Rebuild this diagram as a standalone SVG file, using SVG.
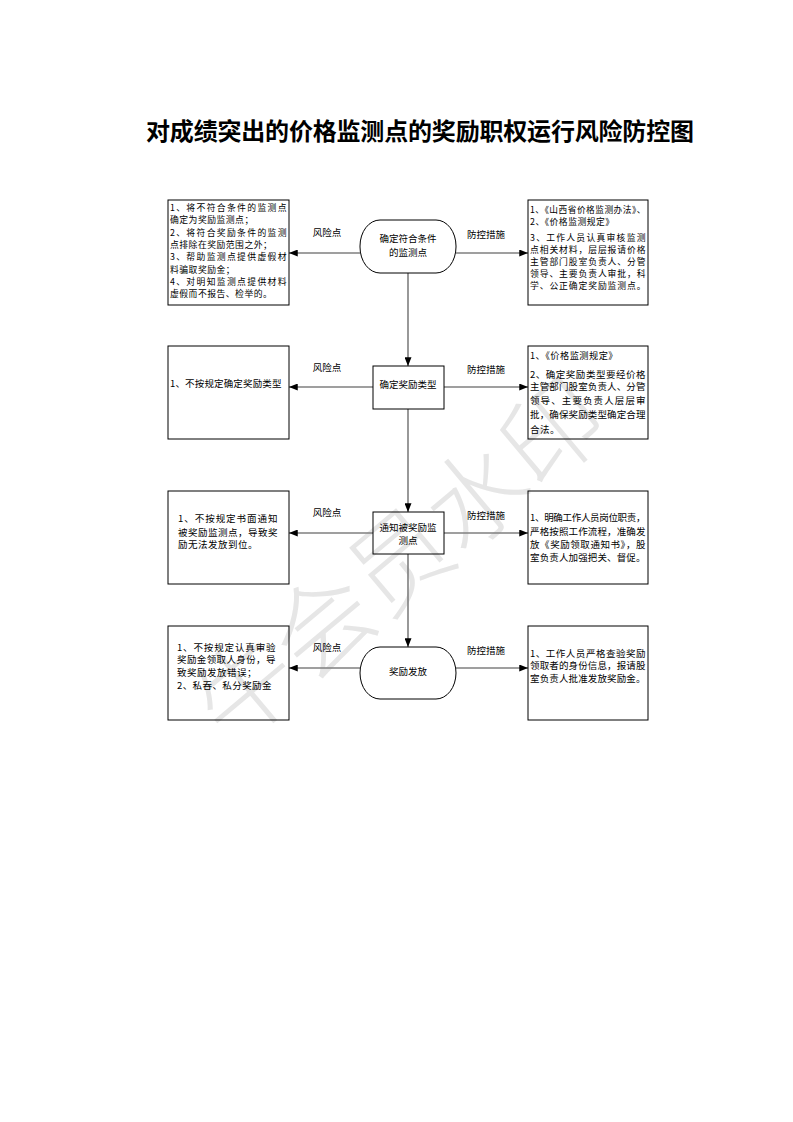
<svg xmlns="http://www.w3.org/2000/svg" width="793" height="1122" viewBox="0 0 793 1122">
<style>
text{font-family:"Noto Sans CJK SC","Noto Sans CJK TC",sans-serif;fill:#000}
.title{font-size:24px;font-weight:bold;letter-spacing:2px}
.t{font-size:9.5px;letter-spacing:0.5px}
.s{font-size:8.8px;letter-spacing:0.5px}
.c{font-size:9.5px;text-anchor:middle}
.lbl{font-size:9.5px;text-anchor:middle}
.box{fill:none;stroke:#000;stroke-width:1}
.conn{stroke:#7f7f7f;stroke-width:1.6;fill:none;marker-end:url(#ah)}
.wm{font-size:100px;fill:#e6e6e6;text-anchor:middle;font-weight:300}
</style>
<defs>
<marker id="ah" viewBox="0 0 10 8" markerWidth="9" markerHeight="7" refX="10" refY="4" orient="auto" markerUnits="userSpaceOnUse">
<path d="M0,0 L10,4 L0,8 z" fill="#000"/>
</marker>
</defs>
<rect width="793" height="1122" fill="#fff"/>
<text x="421" y="140" class="title" text-anchor="middle" textLength="550">对成绩突出的价格监测点的奖励职权运行风险防控图</text>
<text class="wm" x="395" y="555" dominant-baseline="central" transform="rotate(-40 395 555)">牛会员水印</text>

<g id="connectors">
<line class="conn" x1="360" y1="253" x2="289" y2="253"/>
<line class="conn" x1="456" y1="253" x2="528" y2="253"/>
<line class="conn" x1="373" y1="387" x2="289" y2="387"/>
<line class="conn" x1="444" y1="387" x2="528" y2="387"/>
<line class="conn" x1="373" y1="533" x2="289" y2="533"/>
<line class="conn" x1="444" y1="533" x2="528" y2="533"/>
<line class="conn" x1="360" y1="668" x2="289" y2="668"/>
<line class="conn" x1="456" y1="668" x2="528" y2="668"/>
<line class="conn" x1="408" y1="273" x2="408" y2="366"/>
<line class="conn" x1="408" y1="409" x2="408" y2="512"/>
<line class="conn" x1="408" y1="554" x2="408" y2="647"/>
<text class="lbl" x="327" y="236">风险点</text>
<text class="lbl" x="486" y="238">防控措施</text>
<text class="lbl" x="327" y="371">风险点</text>
<text class="lbl" x="486" y="373">防控措施</text>
<text class="lbl" x="327" y="516">风险点</text>
<text class="lbl" x="486" y="519">防控措施</text>
<text class="lbl" x="327" y="651">风险点</text>
<text class="lbl" x="486" y="654">防控措施</text>
</g>

<g id="node1">
<rect class="box" x="360" y="220" width="96" height="53" rx="20" ry="26"/>
<text class="c" x="408" y="242">确定符合条件</text>
<text class="c" x="408" y="256">的监测点</text>
</g>
<g id="node2">
<rect class="box" x="373" y="366" width="71" height="43"/>
<text class="c" x="408" y="388">确定奖励类型</text>
</g>
<g id="node3">
<rect class="box" x="373" y="512" width="71" height="42"/>
<text class="c" x="408" y="531">通知被奖励监</text>
<text class="c" x="408" y="544">测点</text>
</g>
<g id="node4">
<rect class="box" x="360" y="647" width="96" height="52" rx="20" ry="26"/>
<text class="c" x="408" y="675">奖励发放</text>
</g>

<g id="risk1">
<rect class="box" x="168" y="200" width="121" height="105"/>
<text class="s" x="170" y="211" textLength="117">1、将不符合条件的监测点</text>
<text class="s" x="170" y="223.3">确定为奖励监测点；</text>
<text class="s" x="170" y="235.6" textLength="117">2、将符合奖励条件的监测</text>
<text class="s" x="170" y="247.9">点排除在奖励范围之外；</text>
<text class="s" x="170" y="260.2" textLength="117">3、帮助监测点提供虚假材</text>
<text class="s" x="170" y="272.5">料骗取奖励金；</text>
<text class="s" x="170" y="284.8" textLength="117">4、对明知监测点提供材料</text>
<text class="s" x="170" y="297">虚假而不报告、检举的。</text>
</g>
<g id="ctrl1">
<rect class="box" x="528" y="200" width="120" height="105"/>
<text class="s" x="530" y="213" textLength="116" lengthAdjust="spacingAndGlyphs">1、《山西省价格监测办法》、</text>
<text class="s" x="530" y="225">2、《价格监测规定》</text>
<text class="s" x="530" y="241" textLength="116">3、工作人员认真审核监测</text>
<text class="s" x="530" y="253" textLength="116">点相关材料，层层报请价格</text>
<text class="s" x="530" y="265" textLength="116">主管部门股室负责人、分管</text>
<text class="s" x="530" y="277" textLength="116">领导、主要负责人审批，科</text>
<text class="s" x="530" y="289" textLength="116">学、公正确定奖励监测点。</text>
</g>

<g id="risk2">
<rect class="box" x="168" y="346" width="121" height="93"/>
<text class="t" x="170" y="387" textLength="112">1、不按规定确定奖励类型</text>
</g>
<g id="ctrl2">
<rect class="box" x="528" y="346" width="120" height="93"/>
<text class="t" x="530" y="359" textLength="88" lengthAdjust="spacingAndGlyphs">1、《价格监测规定》</text>
<text class="t" x="530" y="378" textLength="116">2、确定奖励类型要经价格</text>
<text class="t" x="530" y="390" textLength="116">主管部门股室负责人、分管</text>
<text class="t" x="530" y="404" textLength="116">领导、主要负责人层层审</text>
<text class="t" x="530" y="418" textLength="116">批，确保奖励类型确定合理</text>
<text class="t" x="530" y="433">合法。</text>
</g>

<g id="risk3">
<rect class="box" x="168" y="491" width="121" height="93"/>
<text class="t" x="178" y="522" textLength="100">1、不按规定书面通知</text>
<text class="t" x="178" y="536" textLength="100">被奖励监测点，导致奖</text>
<text class="t" x="178" y="548">励无法发放到位。</text>
</g>
<g id="ctrl3">
<rect class="box" x="528" y="491" width="120" height="93"/>
<text class="t" x="530" y="521" textLength="116">1、明确工作人员岗位职责，</text>
<text class="t" x="530" y="535" textLength="116">严格按照工作流程，准确发</text>
<text class="t" x="530" y="548" textLength="116">放《奖励领取通知书》，股</text>
<text class="t" x="530" y="561" textLength="116">室负责人加强把关、督促。</text>
</g>

<g id="risk4">
<rect class="box" x="168" y="626" width="121" height="94"/>
<text class="t" x="177" y="651" textLength="99">1、不按规定认真审验</text>
<text class="t" x="177" y="663" textLength="99">奖励金领取人身份，导</text>
<text class="t" x="177" y="676">致奖励发放错误；</text>
<text class="t" x="177" y="689" textLength="95">2、私吞、私分奖励金</text>
</g>
<g id="ctrl4">
<rect class="box" x="528" y="626" width="120" height="94"/>
<text class="t" x="530" y="657" textLength="116">1、工作人员严格查验奖励</text>
<text class="t" x="530" y="669" textLength="116">领取者的身份信息，报请股</text>
<text class="t" x="530" y="682" textLength="116">室负责人批准发放奖励金。</text>
</g>
</svg>
